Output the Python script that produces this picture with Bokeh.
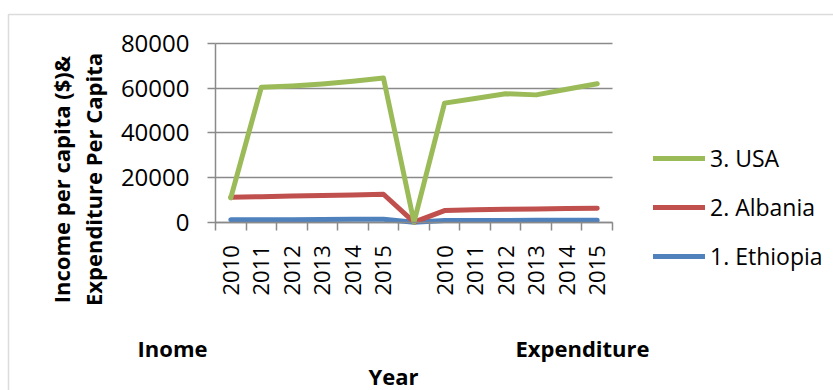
import math
from bokeh.plotting import figure
from bokeh.models import FixedTicker, Label, Legend, LegendItem, BoxAnnotation, Range1d, Grid
from bokeh.embed import file_html
from bokeh.resources import INLINE

# ---- data ----
categories = ["2010", "2011", "2012", "2013", "2014", "2015", "",
              "2010", "2011", "2012", "2013", "2014", "2015"]
usa = [10900, 60400, 61000, 61900, 63100, 64600, 0,
       53300, 55400, 57500, 57000, 59500, 62000]
albania = [11200, 11400, 11700, 11900, 12200, 12500, 0,
           5200, 5600, 5800, 5900, 6100, 6200]
ethiopia = [1060, 1100, 1150, 1200, 1280, 1350, 0,
            760, 780, 800, 830, 860, 900]
series_names = ["3. USA", "2. Albania", "1. Ethiopia"]
series_colors = ["#9BBB59", "#C0504D", "#4F81BD"]
y_ticks = [0, 20000, 40000, 60000, 80000]
y_title_lines = ["Income per capita ($)&", "Expenditure Per Capita"]
group_labels = ["Inome", "Expenditure"]
x_title = "Year"

FONT = "Open Sans"
GRID = "#8a8a8a"
W, H = 833, 390

# pixel layout of the plotting area inside the canvas
PL, PR, PT, PB = 215, 612, 43, 221.7
n = len(categories)
cw = (PR - PL) / n
y_min, y_max = y_ticks[0], y_ticks[-1]
k = (PB - PT) / (y_max - y_min)

xs = list(range(n))

p = figure(width=W, height=H, output_backend="svg", toolbar_location=None, title=None,
           x_range=Range1d(-0.5 - PL / cw, n - 0.5 + (W - PR) / cw),
           y_range=Range1d(y_min - (H - PB) / k, y_max + PT / k),
           min_border=0, min_border_left=0, min_border_right=0,
           min_border_top=0, min_border_bottom=0)
p.outline_line_color = None
p.background_fill_color = "white"
p.border_fill_color = "white"

# outer chart-area border
p.add_layout(BoxAnnotation(left=8, right=W + 20, top=H - 14, bottom=-20,
                           left_units="screen", right_units="screen",
                           top_units="screen", bottom_units="screen",
                           fill_alpha=0, line_color="#8c8c8c", line_width=1.5, level="underlay"))

# grid
p.xgrid.visible = False
p.ygrid.visible = False
g = Grid(dimension=1, ticker=FixedTicker(ticks=y_ticks), grid_line_color=GRID, grid_line_width=1.5)
if "cross_bounds" in Grid.properties():
    g.bounds = (y_min, y_max)
    g.cross_bounds = (-0.5, n - 0.5)
    p.add_layout(g)
else:
    p.segment(x0=[-0.5] * len(y_ticks), x1=[n - 0.5] * len(y_ticks), y0=y_ticks, y1=y_ticks,
              line_color=GRID, line_width=1.5, level="underlay")

# lines (draw Ethiopia first, USA on top)
renderers = {}
for name, vals, col in reversed(list(zip(series_names, [usa, albania, ethiopia], series_colors))):
    renderers[name] = p.line(xs, vals, line_color=col, line_width=5,
                             line_join="round", line_cap="round")

# axes
yax = p.yaxis[0]
yax.fixed_location = -0.5
yax.bounds = (y_min, y_max)
yax.ticker = FixedTicker(ticks=y_ticks)
yax.axis_line_color = GRID
yax.axis_line_width = 1.5
yax.major_tick_line_color = GRID
yax.major_tick_line_width = 1.5
yax.major_tick_out = 8
yax.major_tick_in = 0
yax.minor_tick_line_color = None
yax.major_label_text_font = FONT
yax.major_label_text_font_size = "24px"
yax.major_label_text_color = "black"
yax.major_label_standoff = 18
yax.formatter.use_scientific = False

xax = p.xaxis[0]
xax.fixed_location = 0
xax.bounds = (-0.5, n - 0.5)
xax.ticker = FixedTicker(ticks=xs, minor_ticks=[i - 0.5 for i in range(n + 1)])
xax.major_label_overrides = {i: c for i, c in enumerate(categories)}
xax.axis_line_color = GRID
xax.axis_line_width = 1.5
xax.major_tick_line_color = None
xax.major_tick_out = 0
xax.major_tick_in = 0
xax.minor_tick_line_color = GRID
xax.minor_tick_line_width = 1.5
xax.minor_tick_out = 8
xax.minor_tick_in = 0
xax.major_label_orientation = math.pi / 2
xax.major_label_text_font = FONT
xax.major_label_text_font_size = "22px"
xax.major_label_text_color = "black"
xax.major_label_standoff = 15

# legend
legend = Legend(items=[LegendItem(label=nm, renderers=[renderers[nm]]) for nm in series_names],
                location=(653, 118), orientation="vertical",
                glyph_width=52, glyph_height=30, label_height=30, spacing=17,
                label_standoff=5, padding=0, margin=0,
                label_text_font=FONT, label_text_font_size="23px", label_text_color="black",
                border_line_color=None, background_fill_alpha=0)
p.add_layout(legend, "center")


def lab(text, cx, cy, angle=0.0):
    p.add_layout(Label(text=text, x=cx, y=H - cy, x_units="screen", y_units="screen", angle=angle,
                       text_font=FONT, text_font_size="22px", text_font_style="bold",
                       text_color="black", text_align="center", text_baseline="middle"))


lab(y_title_lines[0], 60, 179, math.pi / 2)
lab(y_title_lines[1], 92, 179, math.pi / 2)
lab(group_labels[0], 172, 347)
lab(group_labels[1], 582, 347)
lab(x_title, 393, 375)

open("out.html", "w").write(file_html(p, INLINE))
